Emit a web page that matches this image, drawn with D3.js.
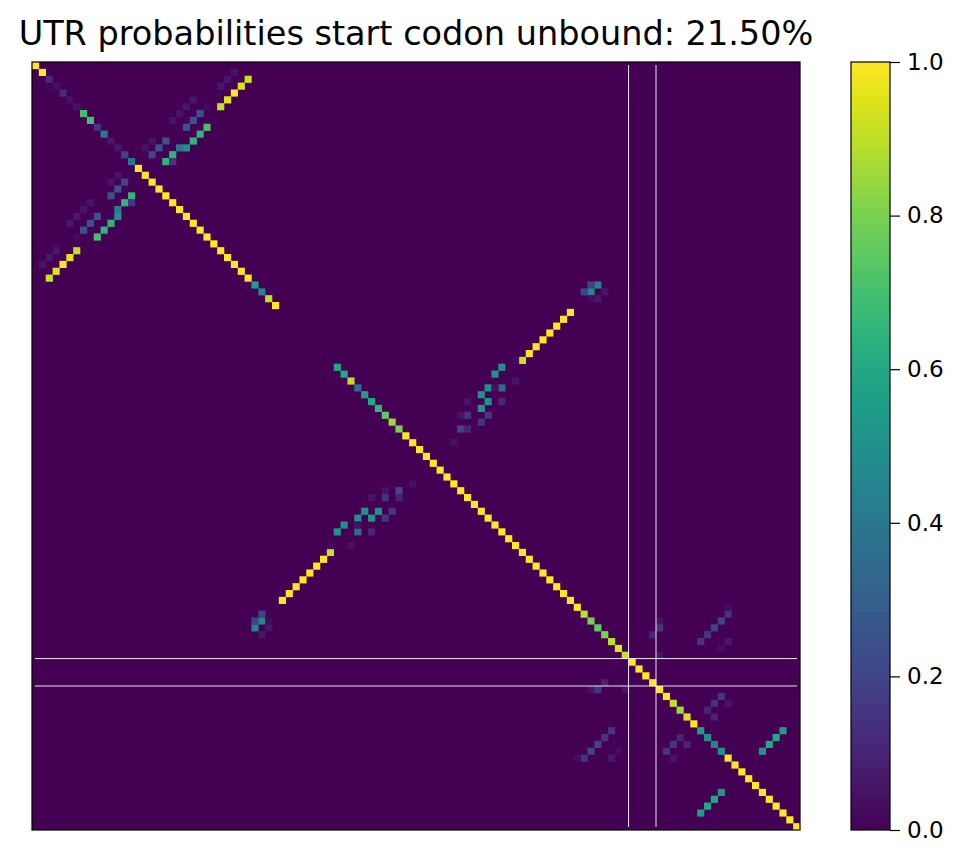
<!DOCTYPE html>
<html>
<head>
<meta charset="utf-8">
<script src="https://cdn.jsdelivr.net/npm/d3@7"></script>
<style>
  body { margin: 0; background: #fff; }
  text { font-family: "DejaVu Sans", sans-serif; }
</style>
</head>
<body>
<svg id="chart" width="973" height="867"></svg>
<script>
const n = 112;
// unpaired probability on the diagonal
const diag = [1,1,.12,.04,.12,.04,.04,.7,.7,.15,.4,.06,.06,.2,.4,
  1,1,1,1,1,1,1,1,1,1,1,1,1,1,1,1,1,
  .55,.45,.9,1,
  0,0,0,0,0,0,0,0,
  .6,.6,.9,.35,.55,.6,.65,.75,.85,.8,
  1,1,1,1,1,1,1,1,1,1,1,1,1,1,1,1,1,1,1,1,1,1,1,1,1,1,
  .9,.8,.75,.8,.9,.95,.92,
  1,1,1,1,1,1,
  .9,.85,.95,1,.55,.5,.45,.5,
  1,1,1,1,1,1,1,1,1,1,1];
// pair probabilities [i, j, p], mirrored
const pairs = [
  [2,31,.92],[3,30,.95],[4,29,1],[5,28,.95],[6,27,.9],
  [1,29,.05],[2,28,.06],[3,27,.06],[5,23,.06],[6,22,.06],[6,25,.03],
  [7,24,.25],[8,23,.25],[9,22,.25],[9,25,.7],[10,24,.65],[11,23,.65],[11,19,.25],
  [12,22,.5],[12,21,.4],[12,18,.25],[13,20,.65],[13,17,.2],[14,19,.65],[14,20,.15],
  [7,21,.05],[8,20,.05],[11,17,.05],[12,16,.05],
  [36,78,1],[37,77,1],[38,76,1],[39,75,1],[40,74,1],[41,73,1],[42,72,1],[43,71,.92],
  [44,68,.5],[45,67,.5],[47,66,.5],[47,68,.35],[48,65,.5],[49,66,.5],[50,65,.5],
  [51,66,.15],[52,65,.15],[51,63,.15],[53,62,.2],[53,63,.1],[49,63,.05],[49,68,.1],
  [51,62,.05],[46,70,.05],[43,70,.03],[55,61,.04],[47,67,.04],
  [32,82,.45],[32,81,.2],[33,81,.45],[33,80,.2],[33,83,.06],[34,82,.06],[34,81,.03],
  [97,109,.55],[98,108,.6],[99,107,.6],[100,106,.5],
  [80,101,.15],[81,100,.2],[82,99,.2],[83,98,.15],[84,97,.15],[84,101,.06],[85,100,.03],[79,101,.03],
  [81,91,.05],[82,91,.15],[83,90,.1],[86,91,.05],
  [92,100,.15],[93,99,.15],[94,98,.1],[95,99,.1],[93,101,.05]
];
const startCodon = [87, 91]; // boundaries of marked region
const cbTicks = [0, 0.2, 0.4, 0.6, 0.8, 1.0];

const cells = [];
diag.forEach((v, i) => cells.push({ r: i, c: i, v }));
pairs.forEach(([i, j, p]) => {
  cells.push({ r: i, c: j, v: p });
  cells.push({ r: j, c: i, v: p });
});

const svg = d3.select('#chart');
const left = 32, plotTop = 62, size = 768;

const x = d3.scaleBand().domain(d3.range(n)).range([left, left + size]);
const y = d3.scaleBand().domain(d3.range(n)).range([plotTop, plotTop + size]);
const color = d3.scaleSequential(d3.interpolateViridis).domain([0, 1]);

svg.append('rect')
  .attr('x', left).attr('y', plotTop).attr('width', size).attr('height', size)
  .attr('fill', color(0));

svg.append('g').selectAll('rect')
  .data(cells)
  .join('rect')
  .attr('x', (d) => x(d.c))
  .attr('y', (d) => y(d.r))
  .attr('width', x.bandwidth() + 0.3)
  .attr('height', y.bandwidth() + 0.3)
  .attr('fill', (d) => color(d.v));

// start codon guide lines
const lines = svg.append('g').attr('stroke', '#fff').attr('stroke-width', 1).attr('opacity', 0.9);
startCodon.forEach((b) => {
  const px = left + b * x.step();
  const py = plotTop + b * y.step();
  lines.append('line').attr('x1', px).attr('x2', px).attr('y1', plotTop + 3).attr('y2', plotTop + size - 3);
  lines.append('line').attr('y1', py).attr('y2', py).attr('x1', left + 3).attr('x2', left + size - 3);
});

svg.append('rect')
  .attr('x', left).attr('y', plotTop).attr('width', size).attr('height', size)
  .attr('fill', 'none').attr('stroke', '#000').attr('stroke-width', 1.2);

svg.append('text')
  .attr('x', 416).attr('y', 45)
  .attr('text-anchor', 'middle')
  .attr('font-size', 33.5)
  .text('UTR probabilities start codon unbound: 21.50%');

// colorbar
const cbX = 851, cbW = 39;
const defs = svg.append('defs');
const grad = defs.append('linearGradient').attr('id', 'cb')
  .attr('x1', 0).attr('y1', 1).attr('x2', 0).attr('y2', 0);
d3.range(0, 1.0001, 0.05).forEach((t) => {
  grad.append('stop').attr('offset', t).attr('stop-color', color(t));
});
svg.append('rect')
  .attr('x', cbX).attr('y', plotTop).attr('width', cbW).attr('height', size)
  .attr('fill', 'url(#cb)').attr('stroke', '#000').attr('stroke-width', 1.2);

const cbScale = d3.scaleLinear().domain([0, 1]).range([plotTop + size, plotTop]);
const cbAxis = svg.append('g')
  .attr('transform', `translate(${cbX + cbW},0)`)
  .call(d3.axisRight(cbScale).tickValues(cbTicks).tickFormat(d3.format('.1f')).tickSize(10).tickPadding(7));
cbAxis.select('.domain').remove();
cbAxis.selectAll('text').attr('font-size', 23).style('font-family', 'DejaVu Sans');
cbAxis.selectAll('line').attr('stroke-width', 1.2);
</script>
</body>
</html>
